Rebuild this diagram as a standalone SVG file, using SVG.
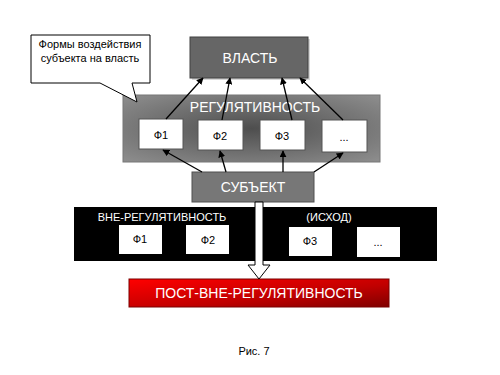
<svg xmlns="http://www.w3.org/2000/svg" width="500" height="375" viewBox="0 0 500 375">
<defs>
<style>
text{font-family:"Liberation Sans",Arial,sans-serif;}
.wt{fill:#ffffff;text-anchor:middle;}
.bt{fill:#000000;text-anchor:middle;font-size:11px;}
.f{fill:#ffffff;stroke:#555555;stroke-width:1;}
.fb{fill:#ffffff;stroke:none;}
.con{stroke:#000000;stroke-width:1.3;fill:none;marker-end:url(#ah);}
</style>
<marker id="ah" viewBox="0 0 10 10" refX="9" refY="5" markerWidth="7" markerHeight="7" orient="auto" markerUnits="userSpaceOnUse">
<path d="M0,0 L10,5 L0,10 z" fill="#000000"/>
</marker>
<radialGradient id="rg" cx="0.5" cy="0.5" r="0.7">
<stop offset="0" stop-color="#4e4e4e"/>
<stop offset="1" stop-color="#8e8e8e"/>
</radialGradient>
<linearGradient id="red" x1="0" y1="0" x2="1" y2="1">
<stop offset="0" stop-color="#ff0000"/>
<stop offset="0.6" stop-color="#c00000"/>
<stop offset="1" stop-color="#800000"/>
</linearGradient>
</defs>
<rect x="0" y="0" width="500" height="375" fill="#ffffff"/>

<g id="vlast">
<rect x="192" y="39" width="118" height="41" fill="#d8d8d8"/>
<rect x="190" y="37" width="118" height="41" fill="#666666" stroke="#404040" stroke-width="1"/>
<text x="250" y="63" class="wt" font-size="14">ВЛАСТЬ</text>
</g>

<g id="regul">
<rect x="123" y="95" width="257" height="67" fill="url(#rg)" stroke="#777777" stroke-width="1"/>
<text x="255" y="112" class="wt" font-size="14">РЕГУЛЯТИВНОСТЬ</text>
</g>

<g id="callout">
<path d="M31,35 H150 V83 H132 L137,102 L100,83 H31 Z" fill="#ffffff" stroke="#000000" stroke-width="1"/>
<text x="90" y="48" class="bt" font-size="11.5">Формы воздействия</text>
<text x="90" y="62" class="bt" font-size="11.5">субъекта на власть</text>
</g>

<g id="f1"><rect x="139" y="119" width="44" height="30" class="f"/><text x="161" y="139" class="bt">Ф1</text></g>
<g id="f2"><rect x="198" y="120" width="45" height="30" class="f"/><text x="220" y="140" class="bt">Ф2</text></g>
<g id="f3"><rect x="260" y="120" width="45" height="30" class="f"/><text x="282" y="140" class="bt">Ф3</text></g>
<g id="fdots"><rect x="322" y="120" width="45" height="32" class="f"/><text x="344" y="141" class="bt">...</text></g>

<g id="subekt">
<rect x="192" y="172" width="122" height="30" fill="#777777" stroke="#505050" stroke-width="1"/>
<text x="253" y="192" class="wt" font-size="14">СУБЪЕКТ</text>
</g>

<g id="vne">
<rect x="74" y="207" width="363" height="54" fill="#000000"/>
<text x="162" y="221" class="wt" font-size="11">ВНЕ-РЕГУЛЯТИВНОСТЬ</text>
<text x="329" y="221" class="wt" font-size="11">(ИСХОД)</text>
</g>
<g id="vf1"><rect x="119" y="225" width="43" height="29" class="fb"/><text x="140" y="243" class="bt">Ф1</text></g>
<g id="vf2"><rect x="186" y="225" width="43" height="29" class="fb"/><text x="208" y="244" class="bt">Ф2</text></g>
<g id="vf3"><rect x="289" y="227" width="43" height="29" class="fb"/><text x="310" y="245" class="bt">Ф3</text></g>
<g id="vfdots"><rect x="357" y="227" width="43" height="30" class="fb"/><text x="378" y="246" class="bt">...</text></g>

<g id="post">
<rect x="129" y="279" width="260" height="28" fill="url(#red)" stroke="#7a0000" stroke-width="1"/>
<text x="259" y="298" class="wt" font-size="14" fill="#f4f4f4">ПОСТ-ВНЕ-РЕГУЛЯТИВНОСТЬ</text>
</g>

<g id="connectors">
<line x1="166" y1="119" x2="203" y2="78" class="con"/>
<line x1="222" y1="120" x2="230" y2="78" class="con"/>
<line x1="292" y1="120" x2="282" y2="78" class="con"/>
<line x1="343" y1="120" x2="300" y2="78" class="con"/>
<line x1="202" y1="172" x2="163" y2="150" class="con"/>
<line x1="226" y1="172" x2="220" y2="151" class="con"/>
<line x1="283" y1="172" x2="283" y2="151" class="con"/>
<line x1="314" y1="172" x2="343" y2="153" class="con"/>
<path d="M255,202 H263 V265 H270 L259,279 L248,265 H255 Z" fill="#ffffff" stroke="#000000" stroke-width="1"/>
</g>

<g id="caption">
<text x="254" y="355" font-size="11" fill="#000000" text-anchor="middle">Рис. 7</text>
</g>
</svg>
